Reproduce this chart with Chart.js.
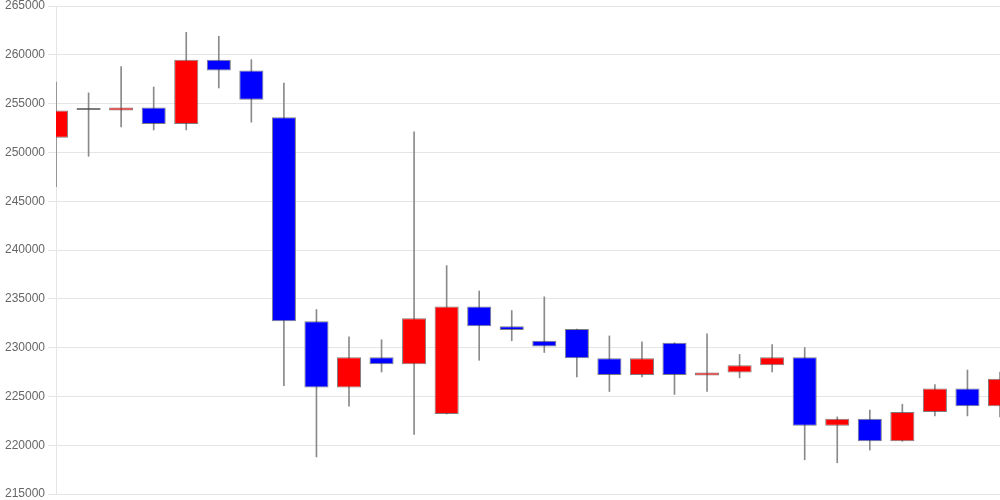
<!DOCTYPE html>
<html>
<head>
<meta charset="utf-8">
<script src="https://cdn.jsdelivr.net/npm/chart.js@4/dist/chart.umd.min.js"></script>
<style>
    html, body { margin: 0; padding: 0; background: #fff; }
    #wrap { width: 1000px; height: 500px; position: relative; }
</style>
</head>
<body>
<div id="wrap"><canvas id="chartCandle"></canvas></div>
<script>
    // candle data
    var labels = ['1', '2', '3', '4', '5', '6', '7', '8', '9', '10',
        '11', '12', '13', '14', '15', '16', '17', '18', '19', '20',
        '21', '22', '23', '24', '25', '26', '27', '28', '29', '30'];

    var openValues = [251500, 254350, 254300, 254600, 252900, 259500, 258400, 253600, 232700, 225900,
        229000, 228300, 223200, 234200, 232200, 230700, 231900, 228900, 227200, 230500,
        227150, 227450, 228200, 229000, 222000, 222700, 220400, 223400, 225800, 224000];

    var closeValues = [254300, 254350, 254600, 252900, 259500, 258400, 255400, 232700, 225900, 229000,
        228300, 233000, 234200, 232200, 231800, 230100, 228900, 227200, 228900, 227200,
        227450, 228200, 229000, 222000, 222700, 220400, 223400, 225800, 224000, 226800];

    var highValues = [257200, 256100, 258800, 256700, 262300, 261900, 259500, 257100, 233900, 231100,
        230800, 252100, 238400, 235800, 233800, 235200, 231900, 231200, 230600, 230500,
        231400, 229300, 230300, 230000, 222900, 223600, 224200, 226200, 227700, 227500];

    var lowValues = [246500, 249600, 252600, 252300, 252300, 256600, 253100, 226100, 218800, 224000,
        227500, 221100, 223200, 228700, 230700, 229500, 227000, 225500, 227000, 225200,
        225500, 226900, 227500, 218500, 218200, 219500, 220400, 223000, 223000, 222900];

    var yTickMin = 215000;
    var yTickMax = 265000;
    var yTickStep = 5000;

    var colorUp = '#ff0000';
    var colorDown = '#0000ff';
    var colorFlat = '#333333';

    let dataBody = [];
    let dataWick = [];
    let arrBodyColor = [];
    for (let i = 0; i < labels.length; i++) {
        dataBody.push([openValues[i], closeValues[i]]);
        dataWick.push([lowValues[i], highValues[i]]);
        if (closeValues[i] > openValues[i])
            arrBodyColor.push(colorUp);
        else if (closeValues[i] < openValues[i])
            arrBodyColor.push(colorDown);
        else
            arrBodyColor.push(colorFlat);
    }

    let ctx = document.getElementById('chartCandle').getContext('2d');

    let candleChart = new Chart(ctx, {
        type: 'bar',
        data: {
            labels: labels,
            datasets: [
                {
                    label: 'Body',
                    data: dataBody,
                    backgroundColor: arrBodyColor,
                    borderColor: 'rgba(70,70,70,0.7)',
                    borderWidth: 1,
                    borderSkipped: false,
                    minBarLength: 2,
                    grouped: false,
                    order: 0,
                    barPercentage: 0.74,
                    categoryPercentage: 1
                },
                {
                    label: 'Wick',
                    data: dataWick,
                    backgroundColor: '#8a8a8a',
                    borderWidth: 0,
                    barThickness: 1,
                    grouped: false,
                    order: 1
                }
            ]
        },
        options: {
            responsive: true,
            maintainAspectRatio: false,
            animation: false,
            layout: {
                padding: { left: 2, top: 6, bottom: 6 }
            },
            plugins: {
                legend: { display: false },
                tooltip: { enabled: false }
            },
            scales: {
                x: {
                    display: false,
                    offset: false,
                    grid: { display: false }
                },
                y: {
                    min: yTickMin,
                    max: yTickMax,
                    afterFit: function (scale) {
                        // let the top/bottom labels hang over the edge
                        scale.paddingTop = 0;
                        scale.paddingBottom = 0;
                    },
                    ticks: {
                        stepSize: yTickStep,
                        color: '#666',
                        font: {
                            family: 'Arial, "Liberation Sans", sans-serif',
                            size: 12
                        },
                        callback: function (value) {
                            return String(value);
                        }
                    },
                    grid: {
                        color: 'rgba(0,0,0,0.1)'
                    },
                    border: {
                        color: 'rgba(0,0,0,0.1)'
                    }
                }
            }
        }
    });
</script>
</body>
</html>
